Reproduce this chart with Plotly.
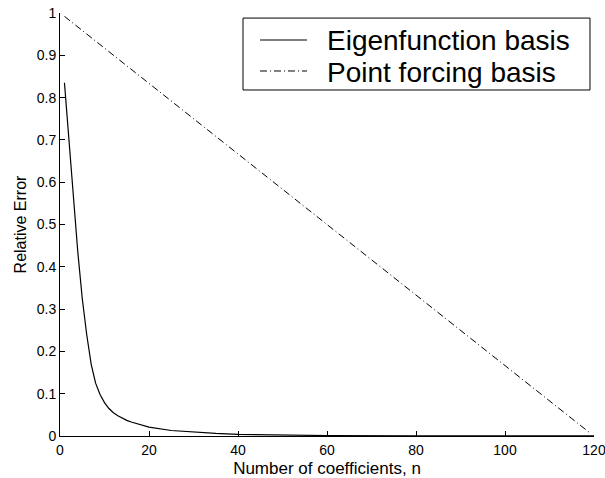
import plotly.graph_objects as go

# Eigenfunction basis relative error
eig_n = [1, 2, 3, 4, 5, 6, 7, 8, 9, 10, 11, 12, 13, 14, 15, 16, 18, 20, 25, 30, 35, 40, 50, 60, 80, 100, 120]
eig_err = [0.835, 0.70, 0.555, 0.435, 0.325, 0.24, 0.17, 0.125, 0.098, 0.079, 0.065, 0.055, 0.048,
           0.042, 0.037, 0.033, 0.027, 0.021, 0.013, 0.009, 0.006, 0.004, 0.002, 0.001, 0.0004, 0.0002, 0.0001]

# Point forcing basis relative error (straight line)
pf_n = [1, 119]
pf_err = [0.992, 0.008]

series_names = ["Eigenfunction basis", "Point forcing basis"]

x_ticks = [0, 20, 40, 60, 80, 100, 120]
y_ticks = [0, 0.1, 0.2, 0.3, 0.4, 0.5, 0.6, 0.7, 0.8, 0.9, 1]
y_labels = ["0", "0.1", "0.2", "0.3", "0.4", "0.5", "0.6", "0.7", "0.8", "0.9", "1"]

FONT = "Liberation Sans, Arial, Helvetica, sans-serif"
DASHDOT = "7px,3px,1px,3px"

fig = go.Figure()
fig.add_trace(go.Scatter(x=eig_n, y=eig_err, mode="lines", name=series_names[0],
                         line=dict(color="black", width=1.2), showlegend=False))
fig.add_trace(go.Scatter(x=pf_n, y=pf_err, mode="lines", name=series_names[1],
                         line=dict(color="black", width=1, dash=DASHDOT), showlegend=False))

# Legend box (drawn in paper coordinates)
shapes = [
    dict(type="rect", xref="paper", yref="paper", x0=0.3427, x1=0.9925, y0=0.818, y1=0.988,
         line=dict(color="black", width=1), fillcolor="white", layer="above"),
    dict(type="line", xref="paper", yref="paper", x0=0.3745, x1=0.4625, y0=0.9362, y1=0.9362,
         line=dict(color="black", width=1.2), layer="above"),
    dict(type="line", xref="paper", yref="paper", x0=0.3745, x1=0.4625, y0=0.8629, y1=0.8629,
         line=dict(color="black", width=1, dash=DASHDOT), layer="above"),
]
annotations = [
    dict(xref="paper", yref="paper", x=0.4963, y=0.935, text=series_names[0], showarrow=False,
         xanchor="left", yanchor="middle", font=dict(size=28, family=FONT, color="black")),
    dict(xref="paper", yref="paper", x=0.4963, y=0.8605, text=series_names[1], showarrow=False,
         xanchor="left", yanchor="middle", font=dict(size=28, family=FONT, color="black")),
]

fig.update_layout(
    width=605, height=478,
    margin=dict(l=60, r=11, t=13, b=42, autoexpand=False),
    paper_bgcolor="white", plot_bgcolor="white",
    font=dict(family=FONT, color="black", size=13),
    showlegend=False,
    shapes=shapes,
    annotations=annotations,
    xaxis=dict(range=[0, 120], tickvals=x_ticks, ticks="inside", ticklen=5, tickcolor="black",
               showline=True, linecolor="black", linewidth=1, showgrid=False, zeroline=False,
               automargin=False, ticklabeloverflow="allow", ticklabelstandoff=1,
               title=dict(text="Number of coefficients, n", font=dict(size=17), standoff=5),
               tickfont=dict(size=14)),
    yaxis=dict(range=[0, 1], tickvals=y_ticks, ticktext=y_labels, ticks="inside", ticklen=5,
               tickcolor="black", showline=True, linecolor="black", linewidth=1,
               showgrid=False, zeroline=False, automargin=False, ticklabeloverflow="allow",
               title=dict(text="Relative Error", font=dict(size=16), standoff=6),
               tickfont=dict(size=14)),
)

fig.write_html("out.html")
